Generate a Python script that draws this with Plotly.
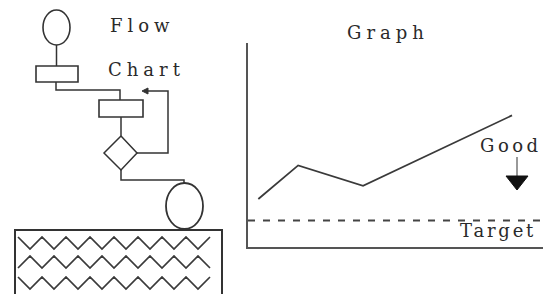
import plotly.graph_objects as go

# ---- data for the graph panel ----
time_points = [0.35, 1.7, 3.9, 8.95]
performance = [2.35, 4.0, 3.0, 6.45]
target_level = 1.3
x_range = [0, 10]
y_range = [0, 10]

W, H = 543, 294
INK = "#333333"
SERIF = "DejaVu Serif"

fig = go.Figure()

# graph line
fig.add_trace(go.Scatter(
    x=time_points, y=performance, mode="lines",
    line=dict(color="#3a3a3a", width=1.8),
    xaxis="x2", yaxis="y2", hoverinfo="skip", showlegend=False))
# target dashed line
fig.add_trace(go.Scatter(
    x=x_range, y=[target_level, target_level], mode="lines",
    line=dict(color="#444444", width=1.8, dash="7px,8px"),
    xaxis="x2", yaxis="y2", hoverinfo="skip", showlegend=False))

shapes = []
def line_path(pts, width=1.5, color=INK):
    d = "M " + " L ".join(f"{x},{y}" for x, y in pts)
    shapes.append(dict(type="path", path=d, xref="x", yref="y",
                       line=dict(color=color, width=width)))

# ---- flow chart (pixel coordinates on hidden axis) ----
shapes.append(dict(type="circle", xref="x", yref="y", x0=43, x1=70, y0=10, y1=45,
                   line=dict(color=INK, width=1.6)))
line_path([(56.5, 45), (56.5, 66)])
shapes.append(dict(type="rect", xref="x", yref="y", x0=36, x1=78, y0=66, y1=82,
                   line=dict(color=INK, width=1.6)))
line_path([(56, 82), (56, 90), (120, 90), (120, 100)])
shapes.append(dict(type="rect", xref="x", yref="y", x0=99, x1=143, y0=100, y1=117,
                   line=dict(color=INK, width=1.6)))
line_path([(121, 117), (121, 136)])
line_path([(121, 136), (137, 153), (121, 170), (104, 153), (121, 136)])
line_path([(137, 153), (168, 153), (168, 91), (146, 91)])
shapes.append(dict(type="path", xref="x", yref="y", path="M 142,91 L 148,88 L 148,94 Z",
                   fillcolor=INK, line=dict(color=INK, width=1)))
line_path([(121, 170), (121, 180), (184, 180), (184, 183)])
shapes.append(dict(type="circle", xref="x", yref="y", x0=166, x1=203, y0=183, y1=229,
                   line=dict(color=INK, width=1.8)))
# tank
line_path([(15, 300), (15, 230), (222, 230), (222, 300)], width=2)
# zigzag waves inside tank
for yc, phase in [(243, 0), (262, 1), (283, 0)]:
    pts = []
    x = 18
    k = phase
    while x <= 219:
        pts.append((x, yc + (6 if k % 2 else -6)))
        x += 12
        k += 1
    line_path(pts, width=1.7, color="#3a3a3a")

# Good arrow
line_path([(517, 157), (517, 176)], width=1.2, color="#555555")
shapes.append(dict(type="path", xref="x", yref="y", path="M 506,176 L 528,176 L 517,190 Z",
                   fillcolor="#111111", line=dict(color="#111111", width=1)))

fig.update_layout(shapes=shapes)

def txt(s, x, y, ls, size=18, anchor="center"):
    fig.add_annotation(x=x, y=y, xref="x", yref="y", showarrow=False,
                       text=f'<span style="letter-spacing:{ls}px">{s}</span>',
                       xanchor=anchor, yanchor="middle",
                       font=dict(family=SERIF, size=size, color="#2a2a2a"))

txt("Flow", 142, 25, 5.0)
txt("Chart", 146, 69, 5.0)
txt("Graph", 388, 32, 5.0)
txt("Target", 498, 230, 2.8)
txt("Good", 478, 145, 3.5, anchor="left")

fig.update_layout(
    width=W, height=H,
    margin=dict(l=0, r=0, t=0, b=0),
    paper_bgcolor="white", plot_bgcolor="rgba(0,0,0,0)",
    xaxis=dict(range=[0, W], domain=[0, 1], visible=False, fixedrange=True),
    yaxis=dict(range=[H, 0], domain=[0, 1], visible=False, fixedrange=True),
    xaxis2=dict(range=x_range, domain=[248 / W, 1], anchor="y2",
                showline=True, linecolor="#555555", linewidth=2,
                showgrid=False, zeroline=False, showticklabels=False, ticks="",
                fixedrange=True),
    yaxis2=dict(range=y_range, domain=[(H - 247) / H, (H - 43) / H], anchor="x2",
                showline=True, linecolor="#555555", linewidth=2,
                showgrid=False, zeroline=False, showticklabels=False, ticks="",
                fixedrange=True),
    showlegend=False,
)

fig.write_html("out.html", config={"displayModeBar": False},
               post_script="document.body.style.margin='0px';document.body.style.overflow='hidden';")
